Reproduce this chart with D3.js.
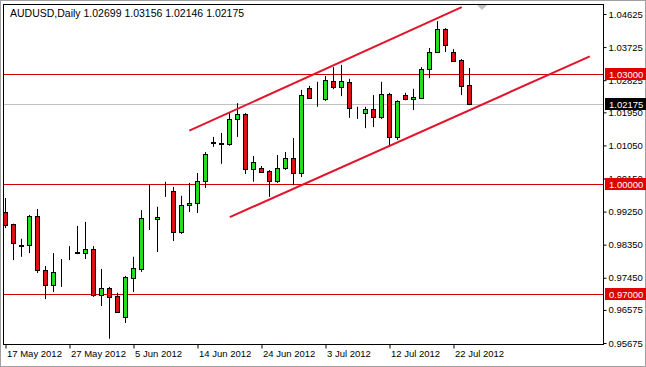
<!DOCTYPE html>
<html>
<head>
<meta charset="utf-8">
<script src="https://cdn.jsdelivr.net/npm/d3@7"></script>
<style>
  body { margin: 0; background: #fff; }
  text { font-family: "Liberation Sans", Arial, sans-serif; }
</style>
</head>
<body>
<script>
var width = 646, height = 367;

// daily bars, 17 May 2012 .. 24 Jul 2012 (Sun-Fri)
var open  = [0.9924,0.9891,0.9834,0.9834,0.9913,0.9766,0.9725,0.9757,0.9811,0.9811,0.9812,0.9823,0.9698,0.9717,0.9696,0.9638,0.9745,0.9769,0.9907,0.9906,0.9981,0.9981,0.9870,0.9943,0.9948,1.0008,1.0112,1.0110,1.0109,1.0177,1.0191,1.0041,1.0044,1.0035,1.0008,1.0044,1.0071,1.0030,1.0261,1.0234,1.0231,1.0280,1.0264,1.0278,1.0196,1.0193,1.0204,1.0182,1.0245,1.0128,1.0242,1.0231,1.0234,1.0313,1.0359,1.0422,1.0359,1.0337,1.02699];
var high  = [0.9962,0.9892,0.9851,0.9916,0.9932,0.9777,0.9812,0.9796,0.9831,0.9886,0.9897,0.9831,0.9769,0.9720,0.9704,0.9750,0.9802,0.9929,0.9998,0.9938,1.0006,0.9992,0.9968,1.0003,1.0030,1.0087,1.0128,1.0139,1.0193,1.0220,1.0193,1.0076,1.0049,1.0038,1.0079,1.0087,1.0125,1.0256,1.0267,1.0278,1.0294,1.0318,1.0324,1.0286,1.0210,1.0210,1.0242,1.0278,1.0248,1.0228,1.0248,1.0259,1.0318,1.0370,1.0443,1.0424,1.0367,1.0340,1.03156];
var low   = [0.9880,0.9793,0.9802,0.9812,0.9758,0.9687,0.9706,0.9720,0.9793,0.9809,0.9796,0.9693,0.9668,0.9579,0.9649,0.9622,0.9706,0.9761,0.9875,0.9815,0.9965,0.9845,0.9864,0.9924,0.9921,0.9989,1.0101,1.0055,1.0104,1.0128,1.0027,1.0006,1.0030,0.9965,1.0003,1.0038,0.9997,1.0019,1.0233,1.0210,1.0226,1.0258,1.0239,1.0180,1.0177,1.0152,1.0155,1.0177,1.0101,1.0120,1.0228,1.0201,1.0231,1.0288,1.0358,1.0359,1.0334,1.0242,1.02146];
var close = [0.9889,0.9840,0.9832,0.9913,0.9766,0.9725,0.9761,0.9759,0.9813,0.9814,0.9823,0.9698,0.9717,0.9693,0.9652,0.9747,0.9772,0.9908,0.9908,0.9909,0.9982,0.9870,0.9943,0.9948,1.0008,1.0082,1.0113,1.0111,1.0177,1.0191,1.0041,1.0060,1.0033,1.0008,1.0044,1.0071,1.0030,1.0242,1.0234,1.0235,1.0283,1.0264,1.0280,1.0207,1.0197,1.0204,1.0182,1.0245,1.0128,1.0226,1.0231,1.0237,1.0313,1.0359,1.0422,1.0378,1.0335,1.0267,1.02175];

var dateTickIdx = [0, 8, 16, 24, 32, 40, 48, 56];
var dateTickLabels = ["17 May 2012","27 May 2012","5 Jun 2012","14 Jun 2012","24 Jun 2012","3 Jul 2012","12 Jul 2012","22 Jul 2012"];

var priceTicks = [1.04625,1.03725,1.02825,1.01950,1.01050,1.00150,0.99250,0.98350,0.97450,0.96575,0.95675];
var levels = [1.03, 1.00, 0.97];   // horizontal red lines
var bid = 1.02175;

// channel lines, [bar index, price]
var upperLine = [[23.04, 1.0145], [57.09, 1.0481]];
var lowerLine = [[28.1, 0.9910], [73.1, 1.0347]];

var title = "AUDUSD,Daily  1.02699 1.03156 1.02146 1.02175";

var plotL = 3, plotR = 603, plotT = 4, plotB = 344;

var xScale = d3.scaleLinear().domain([-0.25, 74.75]).range([plotL, plotR]);
var yScale = d3.scaleLinear().domain([0.95675, 1.04625]).range([343, 14]);

var svg = d3.select("body")
.append("svg")
.attr("width", width)
.attr("height", height);

// window border
svg.append("rect")
.attr("x", 0.5).attr("y", 0.5)
.attr("width", width - 1).attr("height", height - 1)
.attr("fill", "#fff").attr("stroke", "#a0a0a0");

var bars = d3.range(open.length).map(function(i) {
	return {i: i, o: open[i], h: high[i], l: low[i], c: close[i]};
});

// horizontal levels
svg.selectAll(".level")
.data(levels)
.enter()
.append("line")
.attr("x1", plotL).attr("x2", plotR)
.attr("y1", function(d) { return Math.round(yScale(d)) + 0.5; })
.attr("y2", function(d) { return Math.round(yScale(d)) + 0.5; })
.attr("stroke", "#d00000");

// bid line
svg.append("line")
.attr("x1", plotL).attr("x2", plotR)
.attr("y1", Math.round(yScale(bid)) + 0.5)
.attr("y2", Math.round(yScale(bid)) + 0.5)
.attr("stroke", "#c0c0c0");

// wicks
svg.selectAll(".wick")
.data(bars)
.enter()
.append("line")
.attr("class", "wick")
.attr("x1", function(d) { return Math.round(xScale(d.i)) + 0.5; })
.attr("x2", function(d) { return Math.round(xScale(d.i)) + 0.5; })
.attr("y1", function(d) { return yScale(d.h); })
.attr("y2", function(d) { return yScale(d.l); })
.attr("stroke", "#000");

// bodies
svg.selectAll(".body")
.data(bars)
.enter()
.append("rect")
.attr("class", "body")
.attr("x", function(d) { return Math.round(xScale(d.i)) - 1.5; })
.attr("width", 4)
.attr("y", function(d) { return Math.round(yScale(Math.max(d.o, d.c))) + 0.5; })
.attr("height", function(d) {
	return Math.max(0, Math.round(yScale(Math.min(d.o, d.c))) - Math.round(yScale(Math.max(d.o, d.c))));
})
.attr("fill", function(d) { return d.c >= d.o ? "#22dd22" : "#dd1111"; })
.attr("stroke", "#000");

// channel
var line = d3.line()
.x(function(d) { return xScale(d[0]); })
.y(function(d) { return yScale(d[1]); });

svg.selectAll(".channel")
.data([upperLine, lowerLine])
.enter()
.append("path")
.attr("d", line)
.attr("fill", "none")
.attr("stroke", "#e0142a")
.attr("stroke-width", 2);

// frame
svg.append("rect")
.attr("x", plotL + 0.5).attr("y", plotT + 0.5)
.attr("width", plotR - plotL).attr("height", plotB - plotT)
.attr("fill", "none").attr("stroke", "#000");

// chart shift marker
svg.append("path")
.attr("d", "M477,5L487,5L482,10Z")
.attr("fill", "#c0c0c0");

// price axis
var yAxis = d3.axisRight(yScale)
.tickValues(priceTicks)
.tickSize(3)
.tickPadding(2)
.tickFormat(d3.format(".5f"));

var gy = svg.append("g")
.attr("transform", "translate(" + (plotR + 0.5) + ",0)")
.call(yAxis);
gy.select(".domain").remove();
gy.selectAll("text").attr("font-size", 9.5).attr("fill", "#000").attr("font-family", "Liberation Sans, Arial");

// level labels
var tags = levels.map(function(d) { return {v: d, bg: "#e00000"}; });
tags.push({v: bid, bg: "#000"});

var tag = svg.selectAll(".tag")
.data(tags)
.enter()
.append("g")
.attr("transform", function(d) { return "translate(" + (plotR + 1) + "," + Math.round(yScale(d.v)) + ")"; });

tag.append("rect")
.attr("x", 1).attr("y", -6)
.attr("width", 42).attr("height", 12)
.attr("fill", function(d) { return d.bg; });

tag.append("text")
.attr("x", 5).attr("y", 4)
.attr("font-size", 9.5)
.attr("fill", "#fff")
.text(function(d) { return d3.format(".5f")(d.v); });

// date axis
var xAxis = d3.axisBottom(xScale)
.tickValues(dateTickIdx)
.tickSize(4)
.tickFormat(function(d, i) { return dateTickLabels[i]; });

var gx = svg.append("g")
.attr("transform", "translate(0.5," + (plotB + 0.5) + ")")
.call(xAxis);
gx.select(".domain").remove();
gx.selectAll("text")
.attr("text-anchor", "start")
.attr("x", 1)
.attr("y", 6)
.attr("font-size", 9.5)
.attr("fill", "#000")
.attr("font-family", "Liberation Sans, Arial");

// title
svg.append("text")
.attr("x", 10).attr("y", 16.5)
.attr("font-size", 10.5)
.attr("fill", "#000")
.text(title);
</script>
</body>
</html>
